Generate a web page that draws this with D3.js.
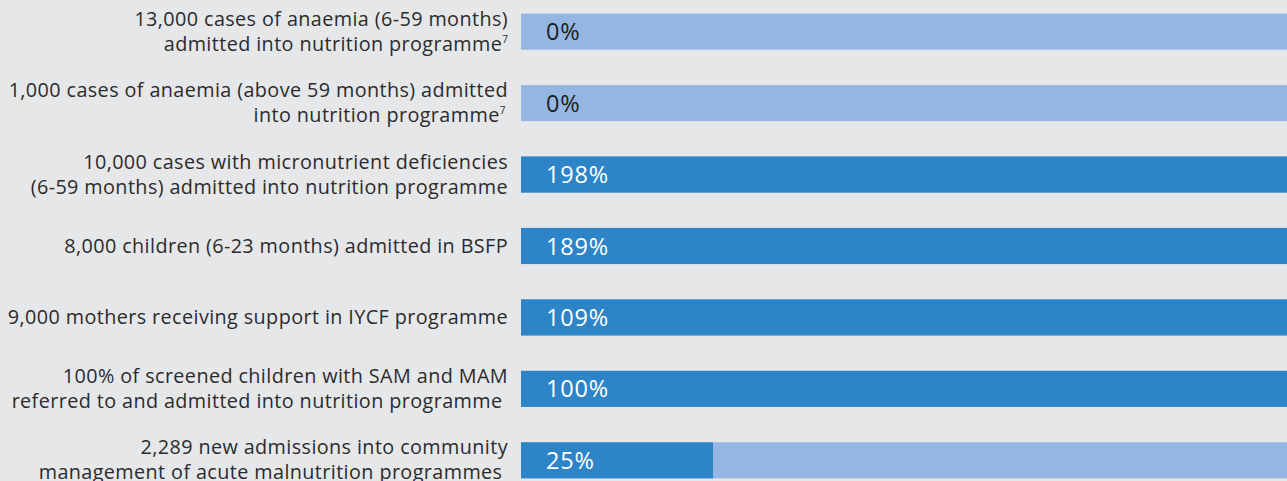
<!DOCTYPE html>
<html><head><meta charset="utf-8">
<script src="https://cdn.jsdelivr.net/npm/d3@7"></script>
<style>
html,body{margin:0;padding:0;background:#e6e7e9;}
svg{display:block;}
text{font-family:"Open Sans",Lato,sans-serif;white-space:pre;}
</style></head>
<body><svg id="chart" width="1287" height="481"></svg>
<script>
const categories = [
  ["13,000 cases of anaemia (6-59 months)", "admitted into nutrition programme|7"],
  ["1,000 cases of anaemia (above 59 months) admitted", "into nutrition programme|7 "],
  ["10,000 cases with micronutrient deficiencies", "(6-59 months) admitted into nutrition programme"],
  ["8,000 children (6-23 months) admitted in BSFP"],
  ["9,000 mothers receiving support in IYCF programme"],
  ["100% of screened children with SAM and MAM", "referred to and admitted into nutrition programme "],
  ["2,289 new admissions into community", "management of acute malnutrition programmes "]
];
const values = [0, 0, 198, 189, 109, 100, 25];
const valueLabels = ["0%", "0%", "198%", "189%", "109%", "100%", "25%"];
const target = 100;

const svg = d3.select("#chart");
const W = 1287, H = 481;
const x = d3.scaleLinear().domain([0, target]).range([521, 1289]);
const y = d3.scaleBand().domain(d3.range(categories.length)).range([-3.5, 495.5]).paddingInner(0.495).paddingOuter(0.24);

svg.append("rect").attr("width", W).attr("height", H).attr("fill", "#e6e7e9");

const g = svg.selectAll("g.row").data(values).join("g").attr("class", "row");

g.append("rect")
  .attr("x", x(0)).attr("y", (d,i) => y(i))
  .attr("width", x(target) - x(0)).attr("height", y.bandwidth())
  .attr("fill", "#94b6e0");

g.append("rect")
  .attr("x", x(0)).attr("y", (d,i) => y(i))
  .attr("width", d => x(Math.min(d, target)) - x(0)).attr("height", y.bandwidth())
  .attr("fill", "#2d85c7");

g.append("text")
  .attr("x", x(0) + 25)
  .attr("y", (d,i) => y(i) + y.bandwidth()/2 + 8.5)
  .attr("font-size", 23.5)
  .attr("font-weight", 400)
  .attr("letter-spacing", 0.8)
  .attr("fill", d => d > 0 ? "#ffffff" : "#1f2022")
  .text((d,i) => valueLabels[i]);

categories.forEach((lines, i) => {
  const cy = y(i) + y.bandwidth()/2;
  const n = lines.length;
  lines.forEach((line, j) => {
    const parts = line.split("|");
    const t = svg.append("text")
      .attr("x", 508)
      .attr("y", cy + (j - (n-1)/2) * 25 + 6.5)
      .attr("text-anchor", "end")
      .attr("font-size", 19.8)
      .attr("letter-spacing", 0.4)
      .attr("fill", "#2b2b2d");
    t.append("tspan").text(parts[0]);
    if (parts[1]) {
      t.append("tspan").attr("font-size", 10).attr("dy", -8).attr("letter-spacing", 0).text(parts[1]);
    }
  });
});
</script></body></html>
